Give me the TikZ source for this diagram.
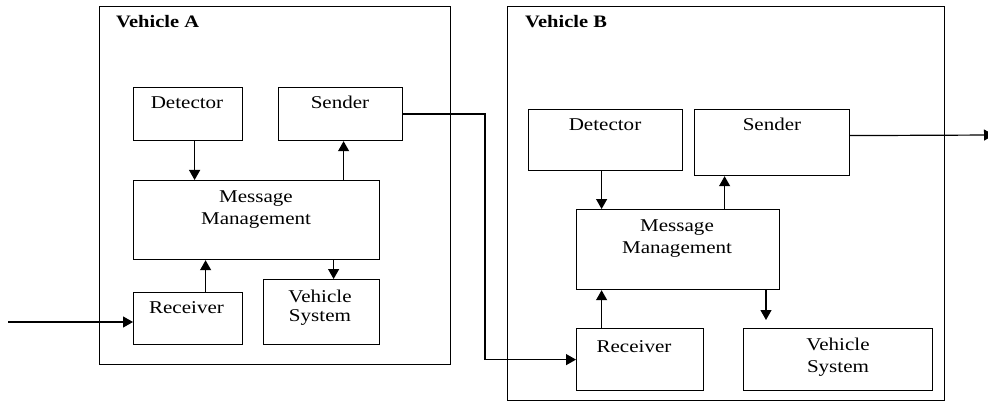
\documentclass[tikz,border=0pt]{standalone}
\usepackage{fontspec}
\setmainfont{Liberation Serif}[FakeStretch=1.17]
\usetikzlibrary{arrows.meta}
\begin{document}
\begin{tikzpicture}[x=1pt,y=-1pt,
  box/.style={draw, line width=1.2pt, inner sep=0pt, anchor=north west},
  arr/.style={line width=1.2pt, -{Triangle[length=10pt,width=11pt]}},
  lbl/.style={font=\fontsize{18}{22}\selectfont, anchor=base, align=center, inner sep=0pt},
  lbltight/.style={font=\fontsize{18}{19}\selectfont, anchor=base, align=center, inner sep=0pt},
  ttl/.style={font=\bfseries\fontsize{17.5}{20}\selectfont, anchor=base west, inner sep=0pt}]
\useasboundingbox (0,0) rectangle (988,401);
% outer boxes
\node[box, minimum width=351pt, minimum height=358pt] (vehA) at (99,6) {};
\node[box, minimum width=437pt, minimum height=394pt] (vehB) at (507,6) {};
\node[ttl] (tA) at (116,28) {Vehicle A};
\node[ttl] (tB) at (525,28) {Vehicle B};
% vehicle A
\node[box, minimum width=109pt, minimum height=53pt] (detA) at (133,87) {};
\node[box, minimum width=124pt, minimum height=53pt] (senA) at (278,87) {};
\node[box, minimum width=246pt, minimum height=79pt] (mmA) at (133,180) {};
\node[box, minimum width=109pt, minimum height=52pt] (recA) at (133,292) {};
\node[box, minimum width=116pt, minimum height=65pt] (vsA) at (263,279) {};
\node[lbl] (tdetA) at (187,109) {Detector};
\node[lbl] (tsenA) at (340,109) {Sender};
\node[lbl] (tmmA) at (256,224) {Message\\Management};
\node[lbl] (trecA) at (186.5,313) {Receiver};
\node[lbltight] (tvsA) at (320,321) {Vehicle\\System};
% vehicle B
\node[box, minimum width=154pt, minimum height=61pt] (detB) at (528,109) {};
\node[box, minimum width=155pt, minimum height=66pt] (senB) at (694,109) {};
\node[box, minimum width=203pt, minimum height=80pt] (mmB) at (576,209) {};
\node[box, minimum width=127pt, minimum height=62pt] (recB) at (576,328) {};
\node[box, minimum width=189pt, minimum height=62pt] (vsB) at (743,328) {};
\node[lbl] (tdetB) at (605,131) {Detector};
\node[lbl] (tsenB) at (772,131) {Sender};
\node[lbl] (tmmB) at (677,253) {Message\\Management};
\node[lbl] (trecB) at (634,352) {Receiver};
\node[lbl] (tvsB) at (838,372) {Vehicle\\System};
% arrows A
\draw[arr] ([xshift=6.5]detA.south) -- ([xshift=6.5]detA.south |- mmA.north);
\draw[arr] ([xshift=3]senA.south |- mmA.north) -- ([xshift=3]senA.south);
\draw[arr] ([xshift=17.5]recA.north) -- ([xshift=17.5]recA.north |- mmA.south);
\draw[arr] ([xshift=12]vsA.north |- mmA.south) -- ([xshift=12]vsA.north);
\coordinate (inA) at (8,322);
\draw[arr] (inA) -- (inA -| recA.west);
% link A -> B
\coordinate (turn) at (485,0);
\draw[arr] (senA.east) -| (turn |- recB.west) -- (recB.west);
% arrows B
\draw[arr] ([xshift=-4]detB.south) -- ([xshift=-4]detB.south |- mmB.north);
\draw[arr] ([xshift=-47.5]senB.south |- mmB.north) -- ([xshift=-47.5]senB.south);
\draw[arr] ([xshift=-38.5]recB.north) -- ([xshift=-38.5]recB.north |- mmB.south);
\coordinate (vsBend) at (766,320);
\draw[arr] (vsBend |- mmB.south) -- (vsBend);
\coordinate (outB) at (994,135);
\draw[arr] ([yshift=7]senB.east) -- (outB);
\end{tikzpicture}
\end{document}
